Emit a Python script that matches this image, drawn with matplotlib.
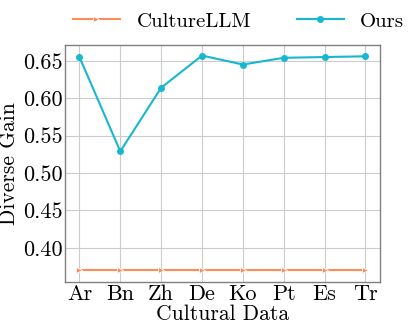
import matplotlib
matplotlib.use("Agg")
import matplotlib.pyplot as plt

categories = ["Ar", "Bn", "Zh", "De", "Ko", "Pt", "Es", "Tr"]
culturellm = [0.37, 0.37, 0.37, 0.37, 0.37, 0.37, 0.37, 0.37]
ours = [0.655, 0.529, 0.614, 0.657, 0.645, 0.654, 0.655, 0.656]
yticks = [0.40, 0.45, 0.50, 0.55, 0.60, 0.65]

plt.rcParams['font.family'] = 'serif'
plt.rcParams['font.serif'] = ['cmr10']
plt.rcParams['mathtext.fontset'] = 'cm'
plt.rcParams['axes.formatter.use_mathtext'] = True
plt.rcParams['axes.unicode_minus'] = False

fig = plt.figure(figsize=(4.15, 3.29), dpi=100)
ax = fig.add_axes([0.157, 0.143, 0.758, 0.72])

x = list(range(len(categories)))
ax.plot(x, culturellm, color='#FF8C55', marker='>', markersize=4, markeredgecolor='white',
        markeredgewidth=0.6, linewidth=1.5, label='CultureLLM')
ax.plot(x, ours, color='#17B8CF', marker='o', markersize=4, linewidth=1.5, label='Ours')

ax.set_xticks(x)
ax.set_xticklabels(categories)
ax.set_yticks(yticks)
ax.set_yticklabels([f"{v:.2f}" for v in yticks])
ax.set_ylim(0.3545, 0.671)
ax.set_xlim(-0.35, 7.35)
ax.grid(True, color='#CCCCCC', linewidth=0.8)
ax.set_axisbelow(True)
for s in ax.spines.values():
    s.set_color('#808080')
    s.set_linewidth(1.0)
ax.tick_params(axis='both', length=0, labelsize=16, pad=2)
ax.set_xlabel('Cultural Data', fontsize=15.5, labelpad=0)
ax.set_ylabel('Diverse Gain', fontsize=15.5, labelpad=3)

fig.legend(loc='upper center', bbox_to_anchor=(0.575, 1.02), ncol=2, frameon=False,
           fontsize=15, handlelength=2.25, columnspacing=2.2, handletextpad=0.8)

fig.savefig('out.png', dpi=100)
